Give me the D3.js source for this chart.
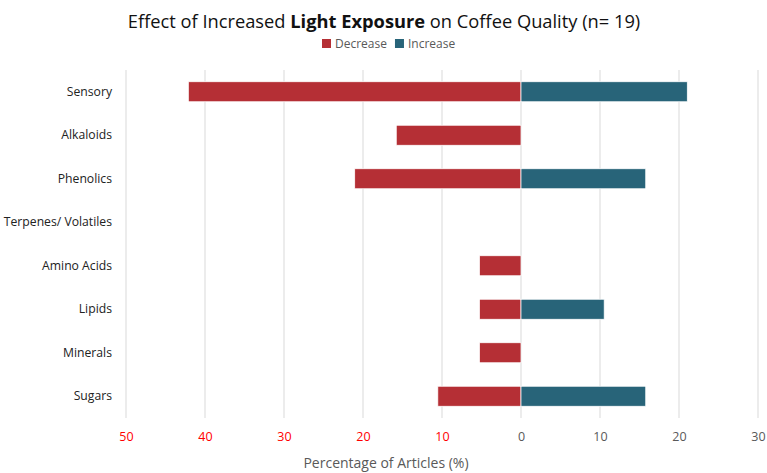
<!DOCTYPE html>
<html><head><meta charset="utf-8">
<script src="https://cdn.jsdelivr.net/npm/d3@7"></script>
<style>body{margin:0;background:#fff}svg{display:block}text{font-family:"Open Sans",Lato,sans-serif}</style>
</head><body><svg id="c" width="767" height="473"></svg>
<script>
const categories = ["Sensory","Alkaloids","Phenolics","Terpenes/ Volatiles","Amino Acids","Lipids","Minerals","Sugars"];
const decrease = [42.11, 15.79, 21.05, 0, 5.26, 5.26, 5.26, 10.53];
const increase = [21.05, 0, 15.79, 0, 0, 10.53, 0, 15.79];
const tickValues = [-50,-40,-30,-20,-10,0,10,20,30];
const seriesNames = ["Decrease","Increase"];
const colors = ["#B52F35","#286479"];

const svg = d3.select("#c");
const x = d3.scaleLinear().domain([-50,30]).range([126,758]);
const y = d3.scaleBand().domain(categories).range([70,418]).paddingInner(0.54).paddingOuter(0.27);

// gridlines
svg.append("g").selectAll("line").data(tickValues).join("line")
  .attr("x1",d=>x(d)).attr("x2",d=>x(d)).attr("y1",70).attr("y2",418)
  .attr("stroke","#d9d9d9").attr("stroke-width",1);

// bars
svg.append("g").selectAll("rect").data(categories).join("rect")
  .attr("x",(d,i)=>x(-decrease[i])).attr("width",(d,i)=>x(0)-x(-decrease[i]))
  .attr("y",d=>y(d)).attr("height",y.bandwidth())
  .attr("fill",colors[0]).attr("stroke","#fff").attr("stroke-width",0.75);
svg.append("g").selectAll("rect").data(categories).join("rect")
  .attr("x",x(0)).attr("width",(d,i)=>x(increase[i])-x(0))
  .attr("y",d=>y(d)).attr("height",y.bandwidth())
  .attr("fill",colors[1]).attr("stroke","#fff").attr("stroke-width",0.75);

// y labels
const ya = svg.append("g").attr("transform","translate(112,0)")
  .call(d3.axisLeft(y).tickSize(0).tickPadding(0));
ya.select(".domain").remove();
ya.selectAll("text").attr("font-size",12.2).attr("fill","#222").style("font-family",'"Open Sans",sans-serif');

// x labels
const xa = svg.append("g").attr("transform","translate(0,418)")
  .call(d3.axisBottom(x).tickValues(tickValues).tickFormat(d=>Math.abs(d)).tickSize(0).tickPadding(14));
xa.select(".domain").remove();
xa.selectAll("text").attr("font-size",12.5).style("font-family",'"Open Sans",sans-serif')
  .attr("fill",d=>d<0?"#FF0000":"#595959");

svg.append("text").attr("x",386).attr("y",468).attr("text-anchor","middle")
  .attr("font-size",14).attr("fill","#595959").text("Percentage of Articles (%)");

// title
const t = svg.append("text").attr("x",384).attr("y",28).attr("text-anchor","middle")
  .attr("font-size",18.3).attr("fill","#111");
t.append("tspan").text("Effect of Increased ");
t.append("tspan").attr("font-weight","bold").text("Light Exposure");
t.append("tspan").text(" on Coffee Quality (n= 19)");

// legend
const lg = svg.append("g").attr("transform","translate(322,44)");
let lx = 0;
seriesNames.forEach((s,i)=>{
  lg.append("rect").attr("x",lx).attr("y",-5).attr("width",9).attr("height",9).attr("fill",colors[i]);
  const tx = lg.append("text").attr("x",lx+13).attr("y",4).attr("font-size",12).attr("fill","#595959").text(s);
  lx += 13 + tx.node().getComputedTextLength() + 8;
});
</script></body></html>
